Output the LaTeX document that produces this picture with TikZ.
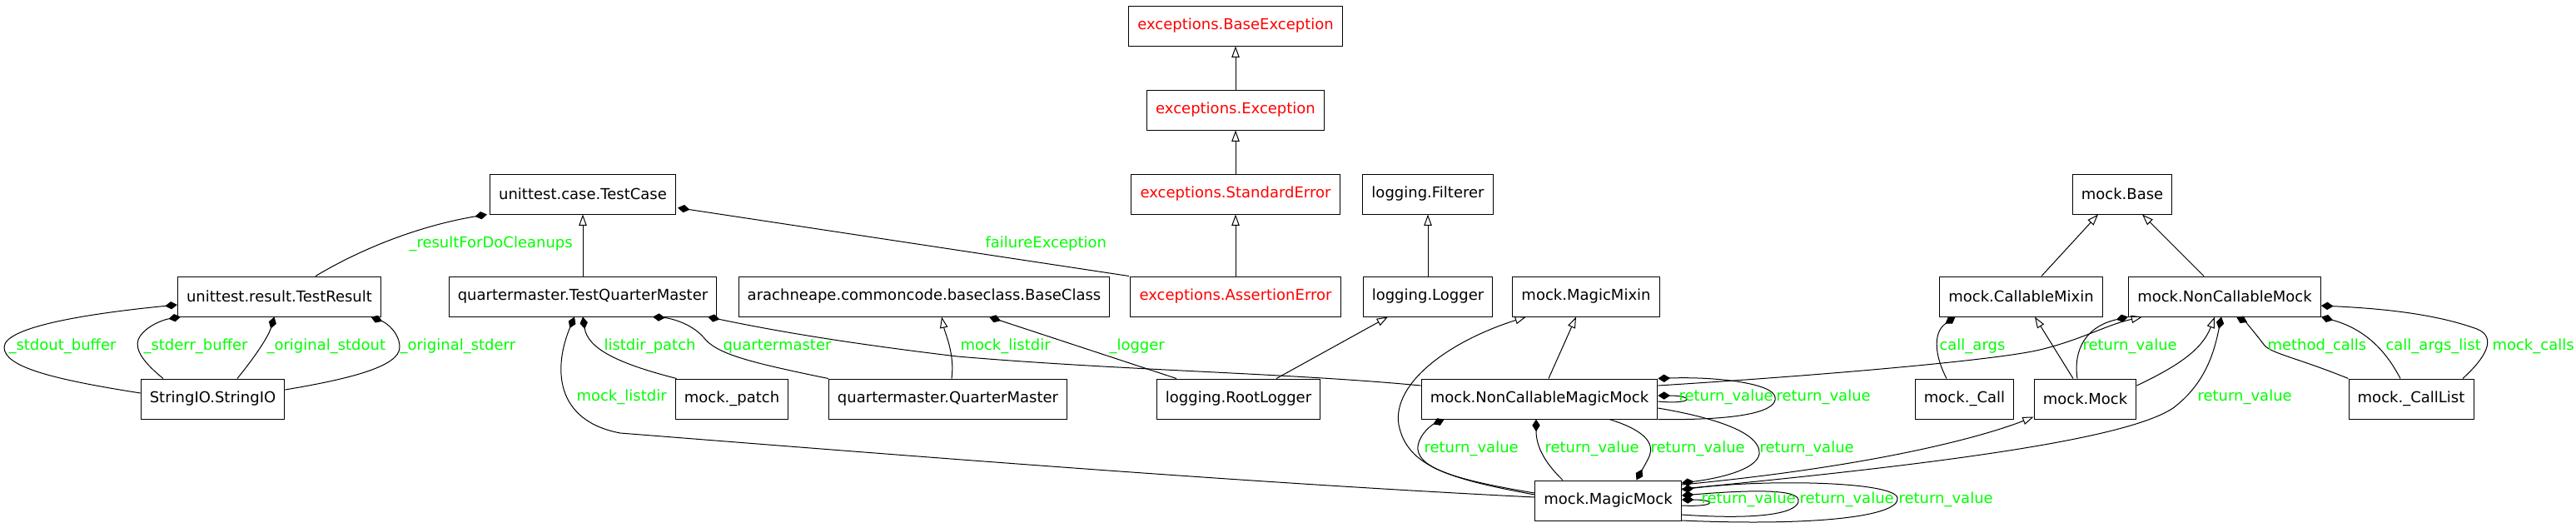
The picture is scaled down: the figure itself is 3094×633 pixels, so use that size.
\documentclass[tikz,border=0pt]{standalone}
\usepackage{fontspec}
\setmainfont{DejaVu Sans}
\usepackage{tikz}
\usetikzlibrary{arrows.meta,calc}
\definecolor{attrgreen}{RGB}{0,255,0}
\definecolor{excred}{RGB}{255,0,0}

\begin{document}
\begin{tikzpicture}[
    x=0.75pt, y=-0.75pt,
    line width=0.75pt,
    inh/.style={-{Triangle[open,length=10pt,width=7pt]}},
    comp/.style={-{Diamond[length=11pt,width=7pt]}},
    cls/.style={draw,
                rectangle,
                minimum height=36pt,
                inner xsep=8pt,
                inner ysep=0pt,
                font=\fontsize{13.5pt}{16pt}\selectfont},
    excls/.style={cls, text=excred},
    attr/.style={anchor=west, inner sep=0pt, text=attrgreen,
                 font=\fontsize{13.5pt}{16pt}\selectfont}]

    \useasboundingbox (0,0) rectangle (3094,633);

    % classes
    \node[excls] (bexc) at (1484,31) {exceptions.BaseException};
    \node[excls] (exc) at (1484,132) {exceptions.Exception};
    \node[excls] (serr) at (1484,233) {exceptions.StandardError};
    \node[excls] (aerr) at (1484,356) {exceptions.AssertionError};
    \node[cls] (filt) at (1715,233) {logging.Filterer};
    \node[cls] (logger) at (1715,356) {logging.Logger};
    \node[cls] (root) at (1487.5,479) {logging.RootLogger};
    \node[cls] (tcase) at (700,233) {unittest.case.TestCase};
    \node[cls] (tres) at (335.5,356) {unittest.result.TestResult};
    \node[cls] (sio) at (255.5,479) {StringIO.StringIO};
    \node[cls] (tqm) at (700,356) {quartermaster.TestQuarterMaster};
    \node[cls] (bcls) at (1110,356) {arachneape.commoncode.baseclass.BaseClass};
    \node[cls] (patch) at (879,479) {mock.\_patch};
    \node[cls] (qm) at (1138.5,479) {quartermaster.QuarterMaster};
    \node[cls] (magmix) at (1905,356) {mock.MagicMixin};
    \node[cls] (ncmm) at (1849,479) {mock.NonCallableMagicMock};
    \node[cls] (mmock) at (1931.5,601) {mock.MagicMock};
    \node[cls] (mbase) at (2549,233) {mock.Base};
    \node[cls] (cmix) at (2427.5,356) {mock.CallableMixin};
    \node[cls] (ncm) at (2672,356) {mock.NonCallableMock};
    \node[cls] (call) at (2359.5,479) {mock.\_Call};
    \node[cls] (mock) at (2504.5,479) {mock.Mock};
    \node[cls] (clist) at (2896,479) {mock.\_CallList};

    % inheritance
    \draw[inh] (exc) -- (bexc);
    \draw[inh] (serr) -- (exc);
    \draw[inh] (aerr) -- (serr);
    \draw[inh] (logger) -- (filt);
    \draw[inh] (tqm) -- (tcase);
    \draw[inh] ($(qm.north)+(4.5,0)$) .. controls (1147,425) and (1135,400) .. ($(bcls.south)+(21,0)$);
    \draw[inh] ($(root.north)+(45.5,0)$) -- ($(logger.south)+(-48,0)$);
    \draw[inh] ($(mmock.west)+(0,-7)$) .. controls (1740,575) and (1690,560) .. (1680,510)
        .. controls (1672,460) and (1740,410) .. ($(magmix.south)+(-72,0)$);
    \draw[inh] ($(ncmm.north)+(11,0)$) -- ($(magmix.south)+(-12,0)$);
    \draw[inh] ($(cmix.north)+(24.5,0)$) -- ($(mbase.south)+(-29,0)$);
    \draw[inh] ($(ncm.north)+(-25,0)$) -- ($(mbase.south)+(24,0)$);
    \draw[inh] ($(mock.north)+(-14.5,0)$) -- ($(cmix.south)+(16.5,0)$);
    \draw[inh] ($(mock.east)+(0,-16)$) .. controls (2615,440) and (2645,420) .. ($(ncm.south)+(-12,0)$);
    \draw[inh] ($(ncmm.east)+(0,-16)$) .. controls (2200,450) and (2400,432) .. (2450,420)
        .. controls (2500,408) and (2530,390) .. ($(ncm.south west)+(17,0)$);
    \draw[inh] ($(mmock.east)+(0,-19)$) .. controls (2250,560) and (2380,525) .. ($(mock.south west)+(0,-3)$);

    % attributes
    \draw[comp] ($(tres.north)+(43.5,0)$) .. controls (440,295) and (510,270) .. ($(tcase.south)+(-115,0)$);
    \draw[comp] ($(aerr.north)+(-128,0)$) -- ($(tcase.south)+(114,-8)$);
    \draw[comp] ($(sio.west)+(0,-7)$) .. controls (60,455) and (5,440) .. (5,417)
        .. controls (5,392) and (110,376) .. ($(tres.west)+(0,10)$);
    \draw[comp] ($(sio.north)+(-59.5,0)$) .. controls (172,435) and (162,420) .. (166,408)
        .. controls (172,393) and (195,384) .. ($(tres.south)+(-118.5,0)$);
    \draw[comp] ($(sio.north)+(29.5,0)$) .. controls (305,430) and (322,405) .. ($(tres.south)+(-6,0)$);
    \draw[comp] ($(sio.east)+(0,-11)$) .. controls (420,455) and (480,440) .. (480,417)
        .. controls (480,400) and (465,388) .. ($(tres.south)+(110,0)$);
    \draw[comp] ($(patch.north west)+(2,0)$) .. controls (740,436) and (706,418) .. (tqm.south);
    \draw[comp] (qm.north west) .. controls (900,435) and (860,425) .. (845,405)
        .. controls (830,388) and (805,382) .. ($(tqm.south)+(84,0)$);
    \draw[comp] ($(ncmm.west)+(0,-16)$) .. controls (1550,448) and (1350,445) .. (1150,428)
        .. controls (1000,410) and (920,395) .. ($(tqm.south)+(150,0)$);
    \draw[comp] ($(mmock.west)+(0,-4)$) .. controls (1500,580) and (1100,548) .. (745,520)
        .. controls (665,505) and (665,440) .. ($(tqm.south)+(-10,0)$);
    \draw[comp] ($(root.north)+(-74.5,0)$) -- ($(bcls.south)+(78,0)$);
    \draw[comp] ($(call.north)+(-21.5,0)$) .. controls (2325,430) and (2320,400) .. ($(cmix.south)+(-79,0)$);
    \draw[comp] ($(mock.north)+(-9.5,0)$) .. controls (2490,420) and (2505,392) .. (ncm.south west);
    \draw[comp] ($(mmock.east)+(0,-14)$) .. controls (2300,560) and (2550,530) .. (2610,490)
        .. controls (2650,460) and (2660,420) .. ($(ncm.south)+(-4,0)$);
    \draw[comp] (clist.north west) .. controls (2760,430) and (2730,425) .. (2720,415)
        .. controls (2705,395) and (2695,385) .. ($(ncm.south)+(14,0)$);
    \draw[comp] ($(clist.north)+(-13,0)$) .. controls (2865,420) and (2840,395) .. (ncm.south east);
    \draw[comp] ($(clist.north)+(62,0)$) .. controls (2985,430) and (3000,405) .. (2975,395)
        .. controls (2920,375) and (2850,370) .. ($(ncm.east)+(0,11)$);
    % return_value links between the magic mocks
    \draw[comp] ($(ncmm.east)+(0,3)$) .. controls (2035,486) and (2035,475) .. ($(ncmm.east)+(0,-4)$);
    \draw[comp] (ncmm.south east) .. controls (2100,505) and (2135,492) .. (2132,477)
        .. controls (2130,460) and (2060,452) .. (ncmm.north east);
    \draw[comp] ($(mmock.west)+(0,-9)$) .. controls (1740,575) and (1700,560) .. (1703,535)
        .. controls (1706,520) and (1720,510) .. ($(ncmm.south west)+(28,0)$);
    \draw[comp] ($(mmock.north)+(-54.5,0)$) .. controls (1860,560) and (1845,540) .. ($(ncmm.south)+(-4,0)$);
    \draw[comp] ($(ncmm.south)+(84,0)$) .. controls (1970,515) and (1990,530) .. (1980,550)
        .. controls (1975,560) and (1970,568) .. ($(mmock.north)+(34,0)$);
    \draw[comp] ($(ncmm.east)+(0,11)$) .. controls (2080,505) and (2115,525) .. (2113,545)
        .. controls (2110,565) and (2060,575) .. ($(mmock.east)+(0,-21)$);
    \draw[comp] ($(mmock.east)+(0,6)$) .. controls (2062,609) and (2062,600) .. ($(mmock.east)+(0,-1)$);
    \draw[comp] ($(mmock.east)+(0,17)$) .. controls (2120,625) and (2162,615) .. (2160,600)
        .. controls (2158,585) and (2080,590) .. ($(mmock.east)+(0,-6)$);
    \draw[comp] ($(mmock.east)+(0,24)$) .. controls (2180,632) and (2282,620) .. (2279,598)
        .. controls (2276,578) and (2120,575) .. ($(mmock.east)+(0,-13)$);

    % attribute names
    \node[attr] (aresult) at (491,293) {\_resultForDoCleanups};
    \node[attr] (afailure) at (1183,293) {failureException};
    \node[attr] (astdout) at (10,416) {\_stdout\_buffer};
    \node[attr] (astderr) at (172,416) {\_stderr\_buffer};
    \node[attr] (aorigout) at (320,416) {\_original\_stdout};
    \node[attr] (aorigerr) at (480,416) {\_original\_stderr};
    \node[attr] (apatch) at (725,416) {listdir\_patch};
    \node[attr] (aqm) at (868,416) {quartermaster};
    \node[attr] (alistdirA) at (1153,416) {mock\_listdir};
    \node[attr] (alogger) at (1332,416) {\_logger};
    \node[attr] (alistdirB) at (692,477) {mock\_listdir};
    \node[attr] (acallargs) at (2329,416) {call\_args};
    \node[attr] (aretmock) at (2501,416) {return\_value};
    \node[attr] (amethod) at (2723,416) {method\_calls};
    \node[attr] (aargslist) at (2865,416) {call\_args\_list};
    \node[attr] (amockcalls) at (2993,416) {mock\_calls};
    \node[attr] (aretmm) at (2639,477) {return\_value};
    \node[attr] (aloopA) at (2016,477) {return\_value};
    \node[attr] (aloopB) at (2133,477) {return\_value};
    \node[attr] (adownA) at (1710,539) {return\_value};
    \node[attr] (adownB) at (1855,539) {return\_value};
    \node[attr] (adownC) at (1982,539) {return\_value};
    \node[attr] (adownD) at (2113,539) {return\_value};
    \node[attr] (aloopC) at (2043,600) {return\_value};
    \node[attr] (aloopD) at (2161,600) {return\_value};
    \node[attr] (aloopE) at (2280,600) {return\_value};

\end{tikzpicture}
\end{document}
